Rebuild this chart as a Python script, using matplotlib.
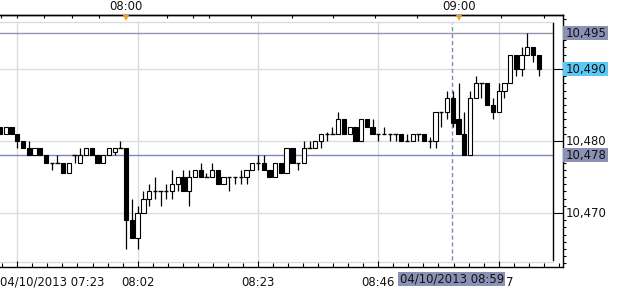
import matplotlib
matplotlib.use('Agg')
import matplotlib.pyplot as plt
import matplotlib.transforms as mtransforms
from matplotlib.patches import Rectangle
import numpy as np

# ---------------- data ----------------
opens = [10.482, 10.481, 10.482, 10.481, 10.480, 10.479, 10.478, 10.479, 10.478, 10.477,
         10.477, 10.477, 10.4755, 10.478, 10.477, 10.478, 10.479, 10.478, 10.477, 10.478,
         10.4785, 10.479, 10.479, 10.469, 10.4665, 10.470, 10.472, 10.473, 10.473, 10.473,
         10.473, 10.474, 10.475, 10.473, 10.475, 10.476, 10.475, 10.475, 10.476, 10.474,
         10.475, 10.475, 10.475, 10.475, 10.476, 10.477, 10.477, 10.476, 10.475, 10.477,
         10.4755, 10.479, 10.477, 10.477, 10.479, 10.479, 10.480, 10.481, 10.481, 10.481,
         10.483, 10.481, 10.482, 10.480, 10.483, 10.482, 10.481, 10.481, 10.481, 10.481,
         10.481, 10.480, 10.480, 10.481, 10.481, 10.480, 10.480, 10.484, 10.484, 10.486,
         10.483, 10.481, 10.478, 10.486, 10.488, 10.488, 10.485, 10.484, 10.487, 10.488,
         10.492, 10.490, 10.492, 10.493, 10.492]
highs = [10.482, 10.482, 10.482, 10.481, 10.480, 10.480, 10.479, 10.479, 10.478, 10.477,
         10.478, 10.477, 10.477, 10.478, 10.479, 10.479, 10.479, 10.478, 10.478, 10.479,
         10.479, 10.480, 10.479, 10.472, 10.471, 10.473, 10.474, 10.475, 10.473, 10.474,
         10.476, 10.475, 10.476, 10.476, 10.476, 10.477, 10.4755, 10.477, 10.476, 10.475,
         10.475, 10.475, 10.476, 10.476, 10.477, 10.478, 10.478, 10.476, 10.477, 10.477,
         10.479, 10.479, 10.477, 10.480, 10.480, 10.480, 10.481, 10.4812, 10.482, 10.484,
         10.483, 10.482, 10.482, 10.483, 10.483, 10.483, 10.481, 10.482, 10.481, 10.481,
         10.481, 10.481, 10.481, 10.481, 10.481, 10.4805, 10.484, 10.484, 10.487, 10.487,
         10.488, 10.484, 10.487, 10.489, 10.488, 10.488, 10.486, 10.488, 10.488, 10.492,
         10.492, 10.493, 10.495, 10.493, 10.492]
lows = [10.481, 10.481, 10.481, 10.479, 10.479, 10.478, 10.478, 10.478, 10.477, 10.476,
        10.477, 10.4755, 10.4755, 10.477, 10.477, 10.478, 10.478, 10.477, 10.477, 10.478,
        10.478, 10.479, 10.465, 10.4665, 10.465, 10.470, 10.471, 10.472, 10.471, 10.472,
        10.472, 10.473, 10.473, 10.471, 10.475, 10.475, 10.475, 10.475, 10.474, 10.474,
        10.473, 10.474, 10.474, 10.474, 10.476, 10.476, 10.476, 10.475, 10.475, 10.4755,
        10.4755, 10.477, 10.476, 10.477, 10.479, 10.479, 10.479, 10.480, 10.481, 10.481,
        10.481, 10.481, 10.480, 10.480, 10.482, 10.481, 10.480, 10.481, 10.480, 10.480,
        10.480, 10.480, 10.480, 10.480, 10.480, 10.479, 10.479, 10.482, 10.483, 10.482,
        10.481, 10.478, 10.478, 10.486, 10.486, 10.485, 10.483, 10.484, 10.486, 10.488,
        10.489, 10.489, 10.492, 10.491, 10.489]
closes = [10.481, 10.482, 10.481, 10.480, 10.479, 10.478, 10.479, 10.478, 10.477, 10.477,
          10.477, 10.4755, 10.477, 10.478, 10.478, 10.479, 10.478, 10.477, 10.478, 10.479,
          10.479, 10.479, 10.469, 10.4665, 10.470, 10.472, 10.473, 10.473, 10.473, 10.473,
          10.474, 10.475, 10.473, 10.475, 10.476, 10.475, 10.475, 10.476, 10.474, 10.475,
          10.475, 10.475, 10.475, 10.476, 10.477, 10.477, 10.476, 10.475, 10.477, 10.4755,
          10.479, 10.477, 10.477, 10.479, 10.479, 10.480, 10.481, 10.481, 10.481, 10.483,
          10.481, 10.482, 10.480, 10.483, 10.482, 10.481, 10.481, 10.481, 10.481, 10.481,
          10.480, 10.480, 10.481, 10.481, 10.480, 10.480, 10.484, 10.484, 10.486, 10.4825,
          10.481, 10.478, 10.486, 10.488, 10.488, 10.485, 10.484, 10.487, 10.488, 10.492,
          10.490, 10.492, 10.493, 10.492, 10.490]

grid_bars = [3, 24, 45, 66, 87]
grid_labels = ["04/10/2013 07:23", "08:02", "08:23", "08:46", "7"]
top_tick_pos = [0.10, 3.0, 7.71, 12.49, 17.31, 21.97, 29.07, 33.66, 36.46, 43.79,
                50.94, 58.10, 65.43, 72.76, 80.09, 87.42, 94.92]
top_labels = {"08:00": 21.97, "09:00": 80.09}
price_major = [10.470, 10.480, 10.490]
high_line = 10.495
ref_line = 10.478
last_price = 10.490
cursor_pos = 78.85
cursor_label = "04/10/2013 08:59"

# ---------------- figure ----------------
W, H = 625, 289
fig = plt.figure(figsize=(W / 100, H / 100), dpi=100)
L, R, T, B = 0, 563, 15, 267
ax = fig.add_axes([L / W, 1 - B / H, (R - L) / W, (B - T) / H])
ax.set_xlim(-0.02, 98.23)
ax.set_ylim(10.4625, 10.4975)
BAR_PX = 5.73

def fy(py):  # pixel y -> axes fraction
    return (B - py) / (B - T)

inner_x = 553 / (R - L)
FS = 8.4
GRID = '#dcdcdc'
BOXC = '#8b91b5'
bt = mtransforms.blended_transform_factory(ax.transData, ax.transAxes)

# grid
for g in grid_bars:
    ax.plot([g, g], [fy(262), fy(22)], color=GRID, lw=1.0, transform=bt, zorder=1)
for p in price_major:
    ax.axhline(p, xmin=0, xmax=inner_x, color=GRID, lw=1.0, zorder=1)
for py in (22, 262):
    ax.plot([0, inner_x], [fy(py), fy(py)], color=GRID, lw=1.0, transform=ax.transAxes, zorder=1)

# inner right border
ax.plot([inner_x, inner_x], [fy(260), fy(23)], color='black', lw=1.0,
        transform=ax.transAxes, zorder=5, clip_on=False)

# price lines
ax.axhline(high_line, xmin=0, xmax=inner_x, color='#9595ab', lw=1.0, zorder=2)
ax.axhline(ref_line, xmin=0, xmax=inner_x, color='#7c87c4', lw=1.0, zorder=2)

# cursor line
ax.plot([cursor_pos, cursor_pos], [fy(260), fy(23)], color='#7c87c4', lw=1.0,
        dashes=(3, 2), transform=bt, zorder=2)

# candles
o = np.array(opens); h = np.array(highs); l = np.array(lows); c = np.array(closes)
x = np.arange(len(o))
bw = 0.75
ax.vlines(x, l, h, color='black', lw=0.9, zorder=3)
dn = c < o
up = c > o
fl = c == o
ax.bar(x[dn], (o - c)[dn], bottom=c[dn], width=bw, facecolor='black',
       edgecolor='black', lw=0.8, zorder=4)
ax.bar(x[up], (c - o)[up], bottom=o[up], width=bw, facecolor='white',
       edgecolor='black', lw=0.8, zorder=4)
ax.hlines(c[fl], x[fl] - bw / 2, x[fl] + bw / 2, color='black', lw=1.0, zorder=4)

# spines
ax.spines['left'].set_visible(False)
for s in ('top', 'bottom', 'right'):
    ax.spines[s].set_color('black')
    ax.spines[s].set_linewidth(1.0)

# bottom ticks
ax.set_xticks(grid_bars)
ax.set_xticks(np.arange(0.375, 98, 21 / 8), minor=True)
ax.tick_params(axis='x', which='major', direction='in', length=4.2, width=0.8,
               labelbottom=False, top=False, color='black')
ax.tick_params(axis='x', which='minor', direction='in', length=2.6, width=0.8,
               top=False, color='black')

# top ticks
sec = ax.secondary_xaxis('top')
sec.set_xticks(top_tick_pos)
sec.tick_params(direction='in', length=2.4, width=0.8, labeltop=False, color='black')
sec.spines['top'].set_linewidth(1.0)

# right ticks
ax.yaxis.tick_right()
ax.set_yticks(price_major)
ax.set_yticks(np.arange(10.463, 10.4976, 0.001), minor=True)
ax.tick_params(axis='y', which='major', direction='in', length=7.2, width=0.8,
               labelright=False, color='black')
ax.tick_params(axis='y', which='minor', direction='out', length=2.4, width=0.8,
               color='black')

# cursor box label
box_half = 53.5 / BAR_PX
ax.add_patch(Rectangle((cursor_pos - box_half, fy(286)), 2 * box_half, fy(272) - fy(286),
                       transform=bt, facecolor=BOXC, edgecolor='none', clip_on=False, zorder=6))
ax.text(cursor_pos, fy(279), cursor_label, transform=bt, ha='center', va='center',
        fontsize=FS, color='#111111', clip_on=False, zorder=7)

# bottom labels
ax.text(0, fy(282), grid_labels[0], transform=ax.transAxes, ha='left', va='center',
        fontsize=FS, color='#111111')
for g, lab in zip(grid_bars[1:4], grid_labels[1:4]):
    ax.text(g, fy(282), lab, transform=bt, ha='center', va='center',
            fontsize=FS, color='#111111', clip_on=False)
# last grid label mostly hidden behind the cursor box: only its tail shows
ax.text(cursor_pos + box_half + 0.15, fy(282), grid_labels[4], transform=bt,
        ha='left', va='center', fontsize=FS, color='#111111', clip_on=False)

# top labels + markers
for lab, pos in top_labels.items():
    ax.text(pos, fy(7), lab, transform=bt, ha='center', va='center',
            fontsize=FS, color='#111111', clip_on=False)
    ax.plot([pos], [fy(17.5)], marker='v', markersize=5, color='#f0a020',
            markeredgewidth=0, transform=bt, clip_on=False, zorder=8)

# right labels
rt = mtransforms.blended_transform_factory(ax.transAxes, ax.transData)
box_w = 45 / (R - L)
box_h = 14 / 7200
def right_label(p, boxcolor=None):
    if boxcolor is not None:
        ax.add_patch(Rectangle((1.0, p - box_h / 2), box_w, box_h, transform=rt,
                               facecolor=boxcolor, edgecolor='none', clip_on=False, zorder=6))
    ax.text(1.0 + 2.5 / (R - L), p, f"{p:.3f}".replace('.', ','), transform=rt,
            ha='left', va='center', fontsize=FS, color='#111111', clip_on=False, zorder=7)

right_label(10.470)
right_label(10.480)
right_label(high_line, BOXC)
right_label(last_price, '#5cc8f7')
right_label(ref_line, BOXC)

fig.savefig('out.png', dpi=100)
